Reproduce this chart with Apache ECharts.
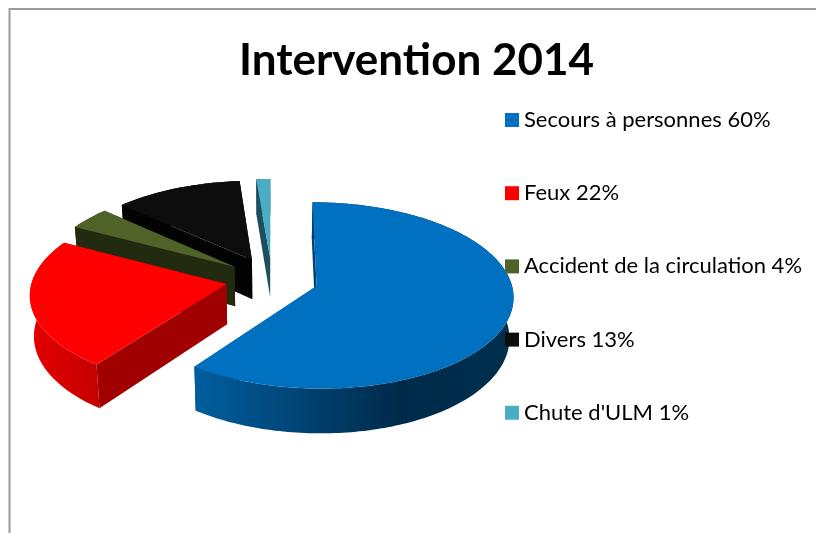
<!DOCTYPE html>
<html>
<head>
<meta charset="utf-8">
<title>Intervention 2014</title>
<style>
html, body { margin: 0; padding: 0; background: #fff; }
#chart { width: 816px; height: 533px; }
</style>
</head>
<body>
<div id="chart"></div>
<script src="https://cdn.jsdelivr.net/npm/echarts@6/dist/echarts.min.js"></script>
<script>
var titleText = 'Intervention 2014';
var categories = ['Secours à personnes', 'Feux', 'Accident de la circulation', 'Divers', "Chute d'ULM"];
// what the legend says
var percentLabels = [60, 22, 4, 13, 1];
// slice sizes as measured on the drawn pie, they differ a little from the labels
var values = [60.1, 22.7, 4, 11.9, 1.3];

// top, radial wall, rim colours (rim goes left to right)
var topColors = ['#0070c0', '#ff0000', '#4f6228', '#0d0d0d', '#4bacc6'];
var wallColors = ['#003f6e', '#a00000', '#222a10', '#030303', '#1f4e5f'];
var rimColors = [
  [[0, '#005f9f'], [0.64, '#002a4a'], [1, '#00304f']],
  [[0, '#e40000'], [1, '#c40000']],
  [[0, '#222a10'], [1, '#222a10']],
  [[0, '#030303'], [1, '#030303']],
  [[0, '#1f4e5f'], [1, '#1f4e5f']]
];

// the fake 3d view
var cx = 272, cy = 279.2, rx = 194, ry = 90.8;
var persp = 0.1, explode = 0.24, depth = 40, bottomScale = 0.983;

var total = values.reduce(function (a, b) { return a + b; }, 0);

function project(sliceU, sliceV, r, ang, lower) {
  var U = sliceU + r * Math.sin(ang);
  var V = sliceV + r * Math.cos(ang);
  var k = 1 / (1 + persp * V);
  var x = rx * U * k;
  var y = -ry * V * k;
  if (lower) {
    x = x * bottomScale;
    y = y + depth * k;
  }
  return [cx + x, cy + y];
}

function makeRender(idx) {
  var before = 0;
  for (var i = 0; i < idx; i++) before += values[i];
  return function (params, api) {
    var a0 = before / total * Math.PI * 2;
    var a1 = (before + api.value(0)) / total * Math.PI * 2;
    var mid = (a0 + a1) / 2;
    var su = explode * Math.sin(mid), sv = explode * Math.cos(mid);

    var topArc = [], lowArc = [];
    var n = Math.max(2, Math.ceil((a1 - a0) / 0.02));
    for (var j = 0; j <= n; j++) {
      var a = a0 + (a1 - a0) * j / n;
      topArc.push(project(su, sv, 1, a, false));
      lowArc.push(project(su, sv, 1, a, true));
    }
    var apexTop = project(su, sv, 0, 0, false);
    var apexLow = project(su, sv, 0, 0, true);

    var stops = rimColors[idx].map(function (s) { return { offset: s[0], color: s[1] }; });
    return {
      type: 'group',
      children: [
        { type: 'polygon', shape: { points: [apexTop, apexLow, lowArc[0], topArc[0]] }, style: { fill: wallColors[idx] } },
        { type: 'polygon', shape: { points: [apexTop, apexLow, lowArc[n], topArc[n]] }, style: { fill: wallColors[idx] } },
        {
          type: 'polygon',
          shape: { points: topArc.concat(lowArc.slice().reverse()) },
          style: { fill: { type: 'linear', x: 0, y: 0, x2: 1, y2: 0, colorStops: stops } }
        },
        { type: 'polygon', shape: { points: [apexTop].concat(topArc) }, style: { fill: topColors[idx] } }
      ]
    };
  };
}

var legendNames = categories.map(function (c, i) { return c + ' ' + percentLabels[i] + '%'; });

// back slices are painted first
var series = [];
for (var s = categories.length - 1; s >= 0; s--) {
  series.push({
    type: 'custom',
    name: legendNames[s],
    coordinateSystem: 'none',
    silent: true,
    animation: false,
    itemStyle: { color: topColors[s] },
    renderItem: makeRender(s),
    data: [[values[s]]]
  });
}

var chart = echarts.init(document.getElementById('chart'));
chart.setOption({
  backgroundColor: '#ffffff',
  animation: false,
  title: {
    text: titleText,
    left: 234,
    top: 34,
    textStyle: { fontFamily: 'Lato', fontWeight: 'bold', fontSize: 44, color: '#000' }
  },
  legend: {
    data: legendNames,
    orient: 'vertical',
    left: 505,
    top: 109,
    padding: 0,
    icon: 'rect',
    itemWidth: 14,
    itemHeight: 14,
    itemGap: 51.2,
    selectedMode: false,
    textStyle: { fontFamily: 'Lato', fontSize: 22, color: '#000', lineHeight: 14, padding: 0 }
  },
  graphic: [{
    type: 'polyline',
    shape: { points: [[9.5, 533], [9.5, 9], [816, 9]] },
    style: { stroke: '#9b9b9b', lineWidth: 2, fill: null }
  }],
  series: series
});
</script>
</body>
</html>
